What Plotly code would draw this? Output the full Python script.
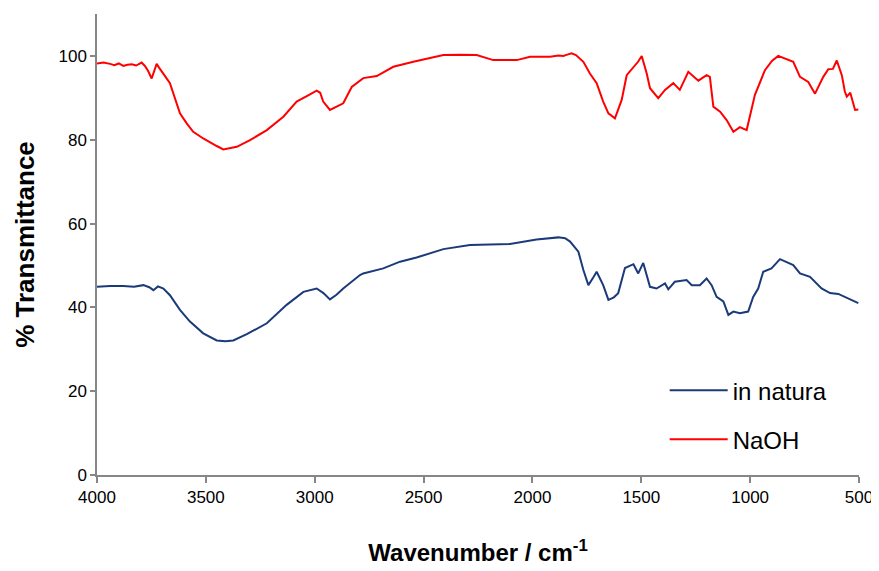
import plotly.graph_objects as go

# NaOH treated sample (red)
naoh_wn = [4000, 3970, 3940, 3920, 3900, 3879, 3860, 3840, 3820, 3795, 3780, 3765, 3749, 3738, 3726, 3715, 3703,
           3685, 3665, 3642, 3619, 3588, 3558, 3512, 3480, 3450, 3420, 3390, 3358, 3297, 3220, 3144, 3083, 3030,
           2991, 2975, 2961, 2930, 2900, 2869, 2830, 2792, 2777, 2715, 2639, 2547, 2470, 2409, 2330, 2256, 2180,
           2072, 2011, 1919, 1880, 1858, 1840, 1820, 1800, 1766, 1736, 1705, 1675, 1651, 1621, 1598, 1590, 1567,
           1536, 1515, 1498, 1475, 1460, 1422, 1391, 1353, 1323, 1284, 1238, 1200, 1185, 1169, 1138, 1108, 1077,
           1047, 1016, 978, 932, 900, 871, 802, 771, 733, 702, 664, 641, 620, 602, 590, 579, 565, 556, 540, 518, 503]
naoh_t = [98.2, 98.4, 98.1, 97.8, 98.2, 97.6, 97.9, 98.0, 97.7, 98.4, 97.6, 96.4, 94.6, 96.5, 98.1, 97.2, 96.2,
          95.0, 93.5, 89.9, 86.3, 83.9, 81.9, 80.3, 79.3, 78.5, 77.7, 78.0, 78.3, 79.9, 82.3, 85.5, 89.1, 90.6,
          91.7, 91.2, 89.1, 87.1, 87.8, 88.7, 92.6, 94.2, 94.7, 95.2, 97.4, 98.6, 99.4, 100.2, 100.3, 100.2, 99.0,
          99.0, 99.8, 99.8, 100.1, 100.0, 100.3, 100.6, 100.2, 98.6, 95.8, 93.5, 89.1, 86.3, 85.1, 88.3, 89.5, 95.4,
          97.4, 98.6, 100.0, 95.8, 92.3, 89.9, 91.9, 93.5, 91.9, 96.2, 94.1, 95.4, 95.0, 87.9, 86.7, 84.7, 81.9,
          83.0, 82.3, 90.7, 96.6, 98.8, 100.0, 98.6, 95.0, 93.8, 91.0, 95.0, 96.8, 96.9, 98.9, 97.0, 95.4, 91.5, 90.3,
          91.2, 87.1, 87.2]

# in natura sample (dark blue)
nat_wn = [4000, 3940, 3879, 3830, 3787, 3760, 3741, 3720, 3695, 3665, 3619, 3573, 3512, 3450, 3410, 3374, 3312,
          3220, 3129, 3052, 2991, 2960, 2930, 2900, 2869, 2838, 2792, 2777, 2685, 2608, 2532, 2409, 2287, 2103,
          1981, 1881, 1850, 1827, 1789, 1766, 1743, 1720, 1705, 1675, 1651, 1626, 1606, 1575, 1536, 1514, 1491,
          1460, 1430, 1391, 1376, 1346, 1292, 1268, 1231, 1200, 1177, 1154, 1123, 1100, 1077, 1047, 1009, 986,
          963, 940, 902, 863, 802, 771, 725, 672, 633, 595, 556, 511, 503]
nat_t = [44.9, 45.1, 45.1, 44.9, 45.3, 44.8, 44.1, 45.0, 44.5, 42.9, 39.4, 36.6, 33.8, 32.1, 31.9, 32.1, 33.6,
         36.2, 40.6, 43.7, 44.5, 43.4, 41.9, 43.0, 44.5, 45.8, 47.7, 48.1, 49.3, 50.9, 51.9, 53.9, 54.9, 55.1,
         56.2, 56.7, 56.5, 55.7, 53.3, 48.9, 45.3, 47.2, 48.5, 45.3, 41.8, 42.4, 43.4, 49.4, 50.3, 48.1, 50.6,
         44.9, 44.5, 45.7, 44.3, 46.1, 46.5, 45.3, 45.3, 46.9, 45.3, 42.5, 41.4, 38.2, 39.0, 38.6, 39.0, 42.5,
         44.5, 48.5, 49.3, 51.5, 50.1, 48.1, 47.3, 44.5, 43.4, 43.2, 42.2, 41.1, 41.0]

x_ticks = [4000, 3500, 3000, 2500, 2000, 1500, 1000, 500]
y_ticks = [0, 20, 40, 60, 80, 100]

FONT = "Liberation Sans, Arial, sans-serif"
AXIS_COLOR = "#868686"

fig = go.Figure()
fig.add_trace(go.Scatter(x=nat_wn, y=nat_t, mode="lines", name="in natura",
                         line=dict(color="#1B3A7A", width=2), legendgroup="a"))
fig.add_trace(go.Scatter(x=naoh_wn, y=naoh_t, mode="lines", name="NaOH",
                         line=dict(color="#FF0000", width=2), legendgroup="b"))

fig.update_layout(
    width=871, height=563,
    margin=dict(l=89, r=20, t=6, b=96),
    paper_bgcolor="white", plot_bgcolor="white",
    font=dict(family=FONT, color="#000000"),
    showlegend=True,
    legend=dict(x=0.745, y=0.232, xanchor="left", yanchor="top",
                font=dict(family=FONT, size=24, color="#000000"),
                itemwidth=58,
                bgcolor="rgba(0,0,0,0)", tracegroupgap=15),
    xaxis=dict(range=[4000, 500], tickvals=x_ticks, ticktext=[str(v) for v in x_ticks],
               showgrid=False, zeroline=False, showline=True, linecolor=AXIS_COLOR, linewidth=1.5,
               ticks="outside", ticklen=6, tickcolor=AXIS_COLOR, tickwidth=1.5,
               tickfont=dict(family=FONT, size=17, color="#000000"),
               title=dict(text="<b>Wavenumber / cm<sup>-1</sup></b>", standoff=38,
                          font=dict(family=FONT, size=24, color="#000000"))),
    yaxis=dict(range=[0, 110], tickvals=y_ticks, ticktext=[str(v) for v in y_ticks],
               showgrid=False, zeroline=False, showline=True, linecolor=AXIS_COLOR, linewidth=1.5,
               ticks="outside", ticklen=5, tickcolor=AXIS_COLOR, tickwidth=1.5,
               tickfont=dict(family=FONT, size=17, color="#000000"),
               title=dict(text="<b>% Transmittance</b>", standoff=16,
                          font=dict(family=FONT, size=26, color="#000000"))),
)

fig.write_html("out.html")
